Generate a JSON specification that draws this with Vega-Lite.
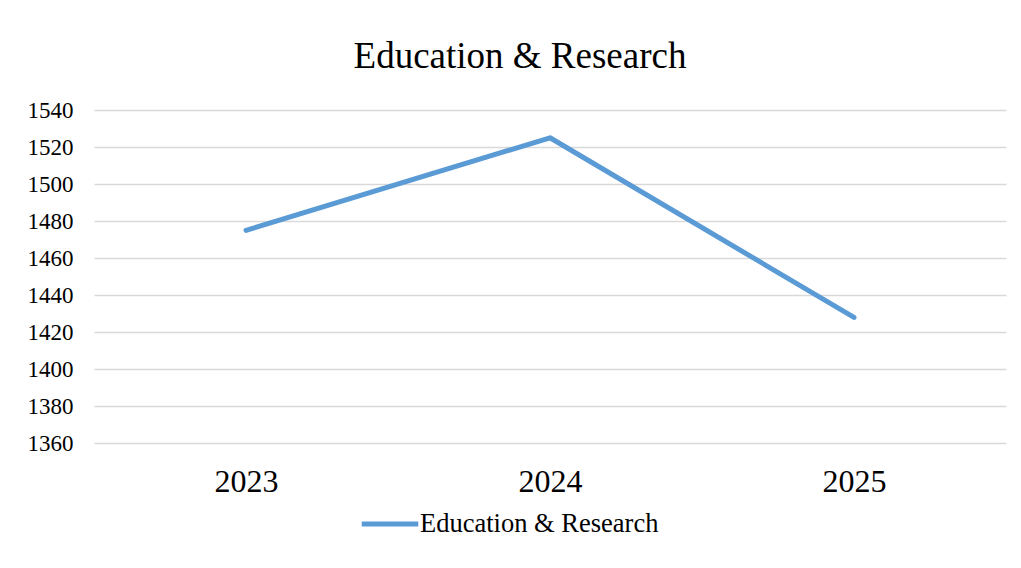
{
  "$schema": "https://vega.github.io/schema/vega-lite/v6.json",
  "autosize": {"type": "none"},
  "width": 912,
  "height": 333.3,
  "padding": {"left": 94, "top": 110, "right": 15, "bottom": 124.7},
  "background": "white",
  "title": {
    "text": "Education & Research",
    "font": "Liberation Serif",
    "fontSize": 37,
    "fontWeight": "normal",
    "color": "#000000",
    "anchor": "middle",
    "dx": -30,
    "baseline": "alphabetic",
    "offset": -6
  },
  "data": {
    "values": [
      {"year": "2023", "value": 1475, "series": "Education & Research"},
      {"year": "2024", "value": 1525, "series": "Education & Research"},
      {"year": "2025", "value": 1428, "series": "Education & Research"}
    ]
  },
  "mark": {"type": "line", "strokeWidth": 5, "strokeCap": "round", "strokeJoin": "round"},
  "encoding": {
    "x": {
      "field": "year",
      "type": "ordinal",
      "scale": {"type": "point", "padding": 0.5},
      "axis": {
        "title": null,
        "labelAngle": 0,
        "labelFont": "Liberation Serif",
        "labelFontSize": 32,
        "labelColor": "#000000",
        "labelPadding": 23,
        "ticks": false,
        "domain": false,
        "grid": false
      }
    },
    "y": {
      "field": "value",
      "type": "quantitative",
      "scale": {"domain": [1360, 1540], "nice": false, "zero": false},
      "axis": {
        "title": null,
        "format": "d",
        "values": [1360, 1380, 1400, 1420, 1440, 1460, 1480, 1500, 1520, 1540],
        "labelFont": "Liberation Serif",
        "labelFontSize": 23,
        "labelColor": "#000000",
        "labelPadding": 21,
        "ticks": false,
        "domain": false,
        "grid": true,
        "gridColor": "#d9d9d9",
        "gridWidth": 1.5
      }
    },
    "color": {
      "field": "series",
      "type": "nominal",
      "scale": {"range": ["#5B9BD5"]},
      "legend": {
        "title": null,
        "orient": "none",
        "legendX": 265,
        "legendY": 383,
        "symbolType": "stroke",
        "symbolSize": 3200,
        "symbolStrokeWidth": 5,
        "labelFont": "Liberation Serif",
        "labelFontSize": 26.5,
        "labelColor": "#000000",
        "labelOffset": -1,
        "labelLimit": 400
      }
    }
  },
  "config": {"view": {"stroke": null}}
}
